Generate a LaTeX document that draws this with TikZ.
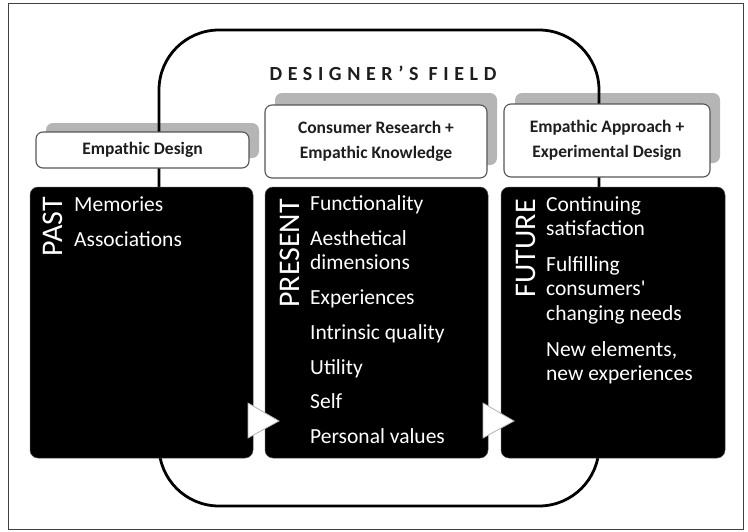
\documentclass[tikz,border=0pt]{standalone}
\usepackage{fontspec}
\setmainfont{Carlito}
\newfontfamily\widefont[LetterSpace=28]{Carlito}
\definecolor{shadowgray}{HTML}{B5B5B5}
\definecolor{boxedge}{HTML}{555555}
\definecolor{hdrtext}{HTML}{1E1E1E}
\tikzset{
  shadowbox/.style={fill=shadowgray, draw=none, rounded corners=7pt},
  hdrbox/.style={fill=white, draw=boxedge, line width=1.1pt, rounded corners=7pt, inner sep=0pt, text=hdrtext,
     font=\fontsize{17.5}{25}\selectfont\bfseries, align=center},
  blkbox/.style={fill=black, draw=black!70, line width=0.5pt, rounded corners=8pt, inner sep=0pt},
  fieldloop/.style={draw=black, line width=2.8pt, rounded corners=60pt},
  item/.style={anchor=base west, inner sep=0pt, text=white, font=\fontsize{21.5}{24}\selectfont},
  era/.style={anchor=base east, inner sep=0pt, rotate=90, text=white, font=\fontsize{30}{30}\selectfont},
  flowtri/.style={fill=white, draw=gray!60, line width=0.8pt},
}
\begin{document}
\begin{tikzpicture}[x=1pt,y=-1pt]
\useasboundingbox (0,0) rectangle (748,531);
\draw[black!75, line width=1pt] (8,3) rectangle (743,529);
% shadows
\fill[shadowbox] (46,123) rectangle (259,158);
\fill[shadowbox] (275,93) rectangle (497,165);
\fill[shadowbox] (515,93) rectangle (720,163);
% designer's field loop
\draw[fieldloop] (159,30) rectangle (599,506);
\node[inner sep=0pt, anchor=base, text=hdrtext, font=\fontsize{20}{20}\selectfont\widefont\bfseries] (field) at (383,80) {DESIGNER’S FIELD};
% header boxes
\node[hdrbox, minimum width=213pt, minimum height=36pt] (ed) at (142.5,150) {Empathic Design};
\node[hdrbox, minimum width=222pt, minimum height=73pt] (cr) at (376,141.5) {Consumer Research +\\Empathic Knowledge};
\node[hdrbox, minimum width=206pt, minimum height=73pt] (ea) at (607,140.5) {Empathic Approach +\\Experimental Design};
% black boxes
\node[blkbox, minimum width=223pt, minimum height=271pt] (past) at (141.5,322.5) {};
\node[blkbox, minimum width=223pt, minimum height=271pt] (present) at (376.5,322.5) {};
\node[blkbox, minimum width=224pt, minimum height=271pt] (future) at (613,322.5) {};
% era labels
\node[era] (pastl) at (63,197) {PAST};
\node[era] (presentl) at (299,199) {PRESENT};
\node[era] (futurel) at (535,199) {FUTURE};
% past items
\node[item] (pa1) at (74,211) {Memories};
\node[item] (pa2) at (74,246) {Associations};
% present items
\node[item] (pr1) at (310,210) {Functionality};
\node[item] (pr2) at (310,245) {Aesthetical};
\node[item] (pr2b) at (310,269) {dimensions};
\node[item] (pr3) at (310,304) {Experiences};
\node[item] (pr4) at (310,339) {Intrinsic quality};
\node[item] (pr5) at (310,374) {Utility};
\node[item] (pr6) at (310,408) {Self};
\node[item] (pr7) at (310,443) {Personal values};
% future items
\node[item] (fu1) at (546,211) {Continuing};
\node[item] (fu1b) at (546,235) {satisfaction};
\node[item] (fu2) at (546,271) {Fulfilling};
\node[item] (fu2b) at (546,295) {consumers\textquotesingle};
\node[item] (fu2c) at (546,320) {changing needs};
\node[item] (fu3) at (546,356) {New elements,};
\node[item] (fu3b) at (546,380) {new experiences};
% flow triangles
\filldraw[flowtri] (248,403) -- (279,421) -- (248,438) -- cycle;
\filldraw[flowtri] (483,403) -- (514,421) -- (483,438) -- cycle;
\end{tikzpicture}
\end{document}
